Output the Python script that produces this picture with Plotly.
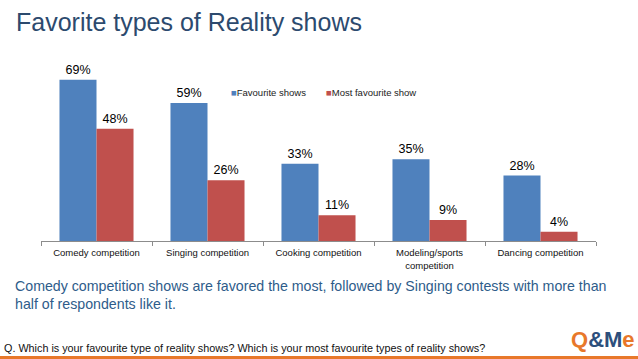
import plotly.graph_objects as go

categories = ["Comedy competition", "Singing competition", "Cooking competition",
              "Modeling/sports<br>competition", "Dancing competition"]
favourite = [0.69, 0.59, 0.33, 0.35, 0.28]
most_favourite = [0.48, 0.26, 0.11, 0.09, 0.04]
series_names = ["Favourite shows", "Most favourite show"]

BLUE = "#4F81BD"
RED = "#C0504D"
FONT = "Liberation Sans, Arial, sans-serif"

L, T, PW, PH = 41, 54, 555, 187

def px(x):
    return (x - L) / PW

def py(y):
    return 1 - (y - T) / PH

fig = go.Figure()
for name, vals, col in [(series_names[0], favourite, BLUE), (series_names[1], most_favourite, RED)]:
    fig.add_trace(go.Bar(
        x=categories, y=vals, name=name, marker=dict(color=col, line=dict(width=0)),
        text=[f"{round(v*100)}%" for v in vals], textposition="outside",
        textfont=dict(size=12.5, color="#000000", family=FONT), cliponaxis=False,
        showlegend=False,
    ))

fig.update_layout(
    width=638, height=359,
    margin=dict(l=L, r=638 - L - PW, t=T, b=359 - T - PH, autoexpand=False),
    paper_bgcolor="white", plot_bgcolor="white",
    barmode="group", bargap=0.333, bargroupgap=0,
    font=dict(family=FONT, color="#000000"),
    showlegend=False,
    xaxis=dict(showline=True, linecolor="#8C8C8C", linewidth=1, ticks="outside",
               tickson="boundaries", ticklen=4, tickcolor="#8C8C8C", ticklabelstandoff=3,
               tickfont=dict(size=9.5, color="#111111", family=FONT), showgrid=False),
    yaxis=dict(range=[0, 0.8], visible=False, showgrid=False, zeroline=False),
)

# legend drawn as text
for nm, col, x0 in [(series_names[0], BLUE, 229), (series_names[1], RED, 324)]:
    fig.add_annotation(text=f"<span style='color:{col}'>■</span>{nm}",
                       xref="paper", yref="paper", x=px(x0), y=py(92),
                       xanchor="left", yanchor="middle", showarrow=False,
                       font=dict(size=9.5, color="#222222", family=FONT))

fig.add_annotation(text="Favorite types of Reality shows", xref="paper", yref="paper",
                   x=px(14), y=py(22), xanchor="left", yanchor="middle",
                   showarrow=False, font=dict(size=25, color="#2C4A6E", family=FONT))

fig.add_annotation(text="Comedy competition shows are favored the most, followed by Singing contests with more than<br>half of respondents like it.",
                   xref="paper", yref="paper", x=px(13), y=py(295),
                   xanchor="left", yanchor="middle", align="left", showarrow=False,
                   font=dict(size=14.2, color="#2E5C8A", family=FONT))
fig.add_annotation(text="Q. Which is your favourite type of reality shows? Which is your most favourite types of reality shows?",
                   xref="paper", yref="paper", x=px(2), y=py(348),
                   xanchor="left", yanchor="middle", showarrow=False,
                   font=dict(size=10.8, color="#111111", family=FONT))
fig.add_annotation(text="<b><span style='color:#E8782A'>Q</span>&amp;M<span style='color:#E8782A'>e</span></b>",
                   xref="paper", yref="paper", x=px(637), y=py(339),
                   xanchor="right", yanchor="middle", showarrow=False,
                   font=dict(size=22, color="#2D4F7C", family=FONT))
fig.add_shape(type="rect", xref="paper", yref="paper",
              x0=px(0), x1=px(638), y0=py(359), y1=py(356),
              fillcolor="#E8782A", line=dict(width=0))

fig.write_html("out.html", config={"displayModeBar": False},
               post_script="document.body.style.margin='0';document.body.style.overflow='hidden';")
